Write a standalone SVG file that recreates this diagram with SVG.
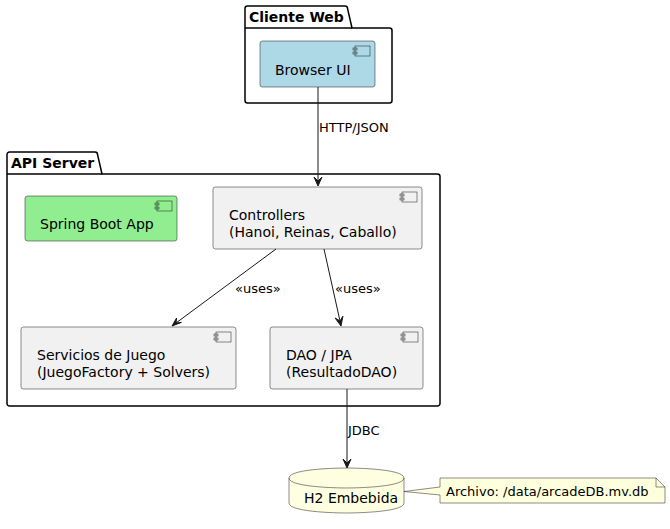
<svg xmlns="http://www.w3.org/2000/svg" width="670" height="529" viewBox="0 0 670 529">
<style>
.pkg{fill:none;stroke:#000;stroke-width:1.5}
.comp{stroke:#181818;stroke-width:0.5}
.ico{fill:none;stroke:#181818;stroke-width:0.5}
.t{font-family:"DejaVu Sans",sans-serif;font-size:14px;fill:#000}
.pt{font-family:"DejaVu Sans",sans-serif;font-size:14px;font-weight:bold;fill:#000}
.lt{font-family:"DejaVu Sans",sans-serif;font-size:13px;fill:#000}
.edge{fill:none;stroke:#181818;stroke-width:1}
.ah{fill:#181818;stroke:#181818;stroke-width:1}
</style>
<rect width="670" height="529" fill="#fff"/>
<g id="pkg-cliente">
<path class="pkg" d="M247.5,6 L345,6 A2.5,2.5 0 0 1 347.5,8.5 L352,28 L389.5,28 A2.5,2.5 0 0 1 392,30.5 L392,100.5 A2.5,2.5 0 0 1 389.5,103 L247.5,103 A2.5,2.5 0 0 1 245,100.5 L245,8.5 A2.5,2.5 0 0 1 247.5,6 Z"/>
<line class="pkg" x1="245" y1="28" x2="352" y2="28"/>
<text class="pt" x="249" y="22">Cliente Web</text>
</g>
<g id="pkg-api">
<path class="pkg" d="M9.5,152 L95,152 A2.5,2.5 0 0 1 97.5,154.5 L102,174 L437.5,174 A2.5,2.5 0 0 1 440,176.5 L440,403.5 A2.5,2.5 0 0 1 437.5,406 L9.5,406 A2.5,2.5 0 0 1 7,403.5 L7,154.5 A2.5,2.5 0 0 1 9.5,152 Z"/>
<line class="pkg" x1="7" y1="174" x2="102" y2="174"/>
<text class="pt" x="11" y="168">API Server</text>
</g>
<g id="browser-ui">
<rect class="comp" x="260" y="41" width="115" height="46" rx="2.5" fill="#ADD8E6"/>
<rect class="ico" x="355" y="46" width="15" height="10"/>
<rect class="ico" x="353" y="48" width="4" height="2"/>
<rect class="ico" x="353" y="52" width="4" height="2"/>
<text class="t" x="275" y="75">Browser UI</text>
</g>
<g id="spring-boot">
<rect class="comp" x="25" y="196" width="152" height="45" rx="2.5" fill="#90EE90"/>
<rect class="ico" x="157" y="201" width="15" height="10"/>
<rect class="ico" x="155" y="203" width="4" height="2"/>
<rect class="ico" x="155" y="207" width="4" height="2"/>
<text class="t" x="40" y="229">Spring Boot App</text>
</g>
<g id="controllers">
<rect class="comp" x="213" y="187" width="209" height="62" rx="2.5" fill="#F1F1F1"/>
<rect class="ico" x="402" y="192" width="15" height="10"/>
<rect class="ico" x="400" y="194" width="4" height="2"/>
<rect class="ico" x="400" y="198" width="4" height="2"/>
<text class="t" x="229" y="220">Controllers</text>
<text class="t" x="229" y="237">(Hanoi, Reinas, Caballo)</text>
</g>
<g id="servicios">
<rect class="comp" x="21" y="327" width="215" height="62" rx="2.5" fill="#F1F1F1"/>
<rect class="ico" x="216" y="332" width="15" height="10"/>
<rect class="ico" x="214" y="334" width="4" height="2"/>
<rect class="ico" x="214" y="338" width="4" height="2"/>
<text class="t" x="37" y="360">Servicios de Juego</text>
<text class="t" x="37" y="377">(JuegoFactory + Solvers)</text>
</g>
<g id="dao">
<rect class="comp" x="270" y="327" width="153" height="62" rx="2.5" fill="#F1F1F1"/>
<rect class="ico" x="403" y="332" width="15" height="10"/>
<rect class="ico" x="401" y="334" width="4" height="2"/>
<rect class="ico" x="401" y="338" width="4" height="2"/>
<text class="t" x="286" y="360">DAO / JPA</text>
<text class="t" x="286" y="377">(ResultadoDAO)</text>
</g>
<g id="h2">
<path d="M289,478 C289,468 346.5,468 346.5,468 C346.5,468 404,468 404,478 L404,503 C404,513 346.5,513 346.5,513 C346.5,513 289,513 289,503 Z" fill="#FEFFE0" stroke="#181818" stroke-width="0.5"/>
<path d="M289,478 C289,488 346.5,488 346.5,488 C346.5,488 404,488 404,478" fill="none" stroke="#181818" stroke-width="0.5"/>
<text class="t" x="304" y="503">H2 Embebida</text>
</g>
<g id="note">
<path d="M440,478 L656,478 L665,487 L665,503 L440,503 L440,495 L404,491.5 L440,487 Z" fill="#FEFFDD" stroke="#181818" stroke-width="0.5"/>
<path d="M656,478 L656,487 L665,487" fill="none" stroke="#181818" stroke-width="0.5"/>
<text class="lt" x="446" y="496">Archivo: /data/arcadeDB.mv.db</text>
</g>
<g id="connectors">
<path class="edge" d="M318,87 L318,181"/>
<polygon class="ah" points="318,186 322,177 318,181 314,177"/>
<text class="lt" x="319" y="132">HTTP/JSON</text>
<path class="edge" d="M276,249 L176,323"/>
<polygon class="ah" points="172,326 181.4,322.4 176,323 176.6,318"/>
<text class="lt" x="235" y="293">«uses»</text>
<path class="edge" d="M324,249 L340,321"/>
<polygon class="ah" points="341,326 342.9,316.2 340,321 335.1,318"/>
<text class="lt" x="335" y="293">«uses»</text>
<path class="edge" d="M347,389 L347,463"/>
<polygon class="ah" points="347,468 351,459 347,463 343,459"/>
<text class="lt" x="348" y="435">JDBC</text>
</g>
</svg>
